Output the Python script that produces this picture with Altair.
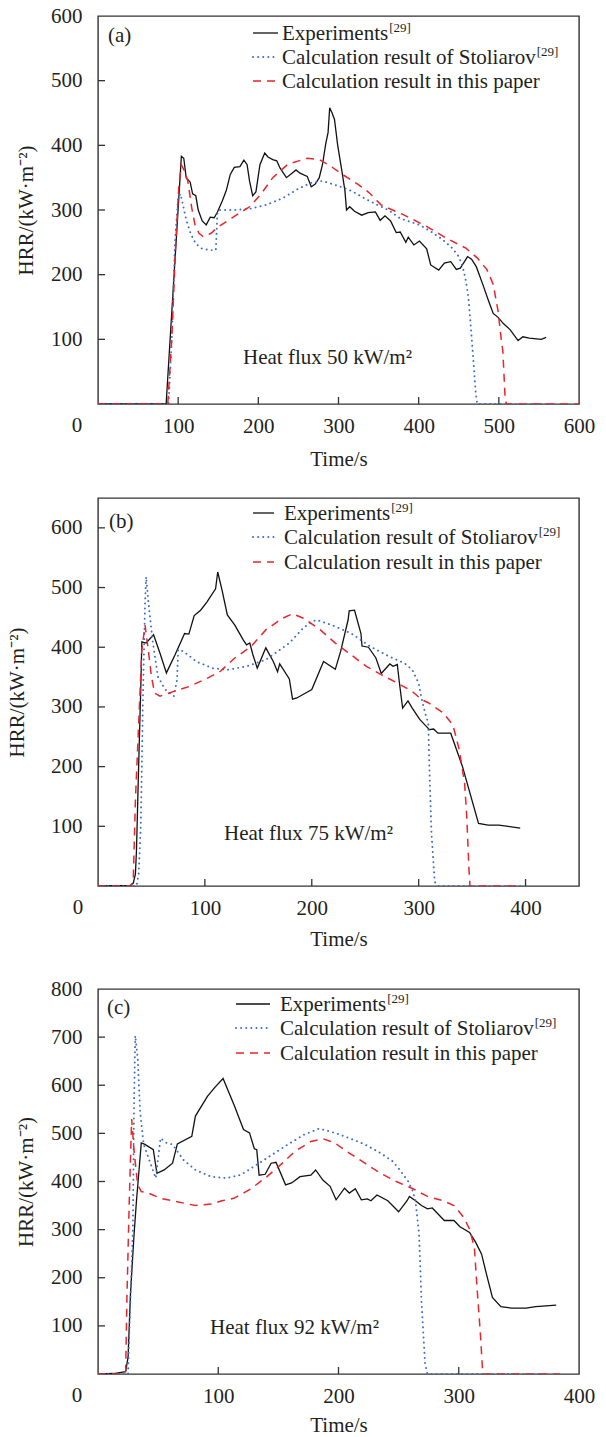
import altair as alt
import pandas as pd

FONT = "Liberation Serif"
TXT = "#231f20"
FRAME = "#333333"
RED = "#e8262b"
BLUE = "#3a6cc8"
BLACK = "#111111"

# ---------------- data: panel (a), heat flux 50 ----------------
a_exp_t = [0, 85, 104, 107, 110, 115, 118, 122, 125, 130, 135, 140, 145, 149, 155, 160, 165, 170, 177, 182,
           186, 189, 193, 197, 202, 208, 212, 218, 223, 227, 235, 242, 247, 252, 261, 266, 271, 276, 280, 284,
           287, 289, 292, 295, 299, 304, 308, 310, 314, 320, 329, 337, 346, 352, 358, 365, 372, 377, 384, 387,
           394, 401, 410, 415, 425, 432, 440, 447, 452, 461, 466, 472, 480, 487, 493, 499, 506, 514, 524, 530,
           538, 553, 559]
a_exp_v = [0, 0, 383, 380, 350, 343, 325, 322, 300, 283, 277, 289, 288, 297, 314, 330, 355, 366, 367, 377,
           370, 345, 322, 328, 370, 388, 382, 378, 376, 365, 350, 357, 362, 357, 352, 336, 340, 350, 370, 402,
           420, 458, 450, 440, 400, 362, 330, 300, 305, 298, 292, 296, 297, 284, 291, 283, 265, 266, 250, 258,
           246, 252, 240, 215, 207, 218, 220, 208, 210, 228, 224, 212, 185, 160, 140, 134, 124, 115, 98, 104,
           102, 100, 103]
a_sto_t = [0, 88, 92, 96, 100, 103, 107, 110, 116, 122, 130, 140, 147, 149, 152, 170, 190, 210, 230, 250,
           266, 280, 290, 305, 317, 331, 345, 362, 377, 401, 415, 430, 442, 450, 455, 459, 462, 465, 468, 471,
           473, 560]
a_sto_v = [0, 0, 100, 250, 320, 325, 302, 285, 262, 248, 240, 238, 238, 298, 300, 300, 302, 308, 318, 333,
           342, 345, 341, 335, 329, 319, 310, 300, 287, 277, 267, 254, 241, 228, 212, 190, 165, 120, 72, 20,
           0, 0]
a_cal_t = [0, 87, 92, 97, 101, 104, 108, 112, 117, 121, 126, 131, 136, 141, 150, 170, 189, 203, 218, 237,
           261, 276, 290, 305, 324, 338, 353, 382, 411, 435, 459, 473, 485, 493, 499, 503, 505, 508, 510, 600]
a_cal_v = [0, 0, 100, 250, 340, 370, 360, 345, 303, 277, 264, 259, 261, 264, 274, 290, 305, 324, 350, 371,
           380, 378, 368, 355, 340, 327, 308, 292, 274, 256, 241, 226, 208, 185, 144, 100, 82, 5, 0, 0]

# ---------------- data: panel (b), heat flux 75 ----------------
b_exp_t = [0, 30, 33, 35, 36, 38, 40, 41, 45, 52, 58, 64, 72, 81, 85, 90, 96, 102, 110, 112,
           116, 121, 128, 136, 139, 142, 145, 149, 157, 164, 168, 170, 179, 182, 186, 200, 211, 222, 227, 234,
           235, 240, 246, 247, 253, 260, 265, 273, 276, 280, 282, 284, 285, 290, 294, 301, 310, 314, 318, 330,
           341, 356, 365, 375, 395]
b_exp_v = [0, 1, 5, 20, 60, 200, 330, 409, 407, 421, 390, 357, 387, 423, 422, 453, 462, 476, 498, 526,
           496, 454, 437, 412, 404, 407, 387, 365, 399, 376, 359, 372, 347, 313, 315, 329, 376, 363, 393, 446,
           461, 462, 423, 402, 400, 382, 356, 372, 368, 371, 340, 312, 298, 310, 298, 279, 262, 263, 256, 256,
           200, 105, 102, 102, 97]
b_sto_t = [0, 36, 38, 40, 41, 42, 44, 45, 47, 51, 56, 63, 71, 74, 75, 80, 92, 107, 121, 139,
           157, 179, 193, 204, 219, 237, 255, 273, 287, 294, 300, 303, 306, 309, 310, 312, 315, 318, 395]
b_sto_v = [0, 0, 20, 100, 200, 312, 473, 518, 479, 412, 351, 329, 318, 346, 396, 393, 376, 365, 362, 368,
           379, 407, 434, 446, 437, 423, 401, 384, 373, 362, 340, 312, 290, 273, 200, 88, 7, 0, 0]
b_cal_t = [0, 31, 33, 35, 39, 41, 44, 47, 50, 53, 58, 71, 85, 100, 114, 128, 143, 157, 172, 182,
           193, 208, 222, 237, 251, 265, 280, 294, 303, 309, 323, 332, 338, 343, 345, 347, 348, 395]
b_cal_v = [0, 0, 10, 144, 312, 396, 437, 396, 351, 323, 318, 326, 334, 346, 359, 382, 401, 429, 448, 456,
           448, 429, 407, 387, 368, 354, 340, 326, 312, 307, 290, 270, 228, 172, 116, 30, 0, 0]

# ---------------- data: panel (c), heat flux 92 ----------------
c_exp_t = [0, 13, 23, 25, 27, 30, 32, 36, 39, 46, 49, 55, 62, 66, 78, 81, 91, 97, 104, 113,
           121, 126, 130, 132, 134, 139, 144, 148, 156, 161, 168, 177, 181, 187, 193, 198, 205, 209, 214, 219,
           224, 227, 232, 241, 250, 257, 259, 264, 269, 274, 278, 288, 296, 301, 309, 314, 319, 323, 328, 335,
           344, 356, 364, 381]
c_exp_v = [0, 1, 5, 35, 166, 291, 360, 480, 477, 466, 417, 424, 438, 478, 494, 536, 577, 595, 614, 560,
           508, 501, 468, 466, 413, 415, 438, 440, 393, 397, 410, 413, 424, 403, 390, 362, 386, 376, 385, 362,
           364, 360, 372, 360, 337, 360, 369, 360, 350, 343, 345, 319, 319, 306, 294, 274, 249, 208, 159, 140,
           137, 137, 140, 143]
c_sto_t = [0, 25, 26, 29, 29.5, 30, 31, 33, 35, 38, 42, 48, 52, 57, 62, 71, 81, 94, 107, 119,
           132, 145, 158, 171, 184, 197, 209, 222, 235, 245, 251, 258, 262, 264, 267, 269, 272, 274, 370]
c_sto_v = [0, 0, 83, 300, 435, 567, 703, 657, 546, 477, 449, 407, 490, 480, 477, 445, 424, 410, 407, 414,
           435, 456, 477, 497, 510, 501, 490, 477, 459, 442, 424, 400, 379, 360, 291, 152, 21, 0, 0]
c_cal_t = [0, 22, 23, 24, 26, 28, 30, 33, 36, 42, 52, 62, 81, 94, 103, 113, 126, 139, 152, 164,
           177, 187, 197, 209, 222, 235, 248, 261, 274, 287, 296, 304, 309, 313, 315, 318, 320, 384]
c_cal_v = [0, 0, 7, 152, 360, 530, 463, 393, 379, 376, 365, 360, 350, 353, 360, 365, 383, 407, 435, 463,
           483, 489, 480, 459, 438, 417, 400, 386, 369, 360, 350, 326, 301, 263, 187, 83, 0, 0]

# ---------------- axes and texts ----------------
a_xticks = [100, 200, 300, 400, 500, 600]
a_yticks = [100, 200, 300, 400, 500, 600]
b_xticks = [100, 200, 300, 400]
b_yticks = [100, 200, 300, 400, 500, 600]
c_xticks = [100, 200, 300, 400]
c_yticks = [100, 200, 300, 400, 500, 600, 700, 800]
x_domains = [600, 450, 400]
y_domains = [600, 650, 800]

legend_labels = ["Experiments", "Calculation result of Stoliarov", "Calculation result in this paper"]
legend_sups = ["[29]", "[29]", ""]
panel_tags = ["(a)", "(b)", "(c)"]
flux_labels = ["Heat flux 50 kW/m²", "Heat flux 75 kW/m²", "Heat flux 92 kW/m²"]
x_title = "Time/s"
y_title = "HRR/(kW·m⁻²)"
corner_label = "0"

FS = 21
SUP = 13
LP = 11

# Times-metric advance widths (per 1000 em) used to place the superscripts
TIMES = {' ': 250, '(': 333, ')': 333, '[': 333, ']': 333, 'a': 444, 'b': 500, 'c': 444, 'd': 500,
         'e': 444, 'f': 333, 'g': 500, 'h': 500, 'i': 278, 'k': 500, 'l': 278, 'm': 778, 'n': 500,
         'o': 500, 'p': 500, 'r': 333, 's': 389, 't': 278, 'u': 500, 'v': 500, 'x': 500,
         'C': 667, 'E': 611, 'S': 556}


def twidth(s, size):
    return sum(TIMES.get(ch, 500) for ch in s) / 1000.0 * size


one = pd.DataFrame({"k": [0]})


def text_layer(label, px, py, size=FS, align="left", baseline="alphabetic"):
    return alt.Chart(pd.DataFrame({"label": [label]})).mark_text(
        font=FONT, fontSize=size, color=TXT, align=align, baseline=baseline
    ).encode(x=alt.value(px), y=alt.value(py), text="label:N")


def panel(i, exp, sto, cal, xticks, yticks, W, H, lay, ytpad):
    xs = alt.Scale(domain=[0, x_domains[i]], nice=False, zero=False)
    ys = alt.Scale(domain=[0, y_domains[i]], nice=False, zero=False)
    xax = alt.Axis(values=xticks, ticks=False, tickSize=0, domain=False, grid=False,
                   labelFont=FONT, labelFontSize=FS, labelColor=TXT, labelPadding=LP,
                   labelFlush=False, labelOverlap=False,
                   titleFont=FONT, titleFontSize=FS, titleFontWeight="normal", titleColor=TXT,
                   titlePadding=lay["xtpad"])
    yax = alt.Axis(values=yticks, ticks=False, tickSize=0, domain=False, grid=False,
                   labelFont=FONT, labelFontSize=FS, labelColor=TXT, labelPadding=16,
                   labelFlush=False, labelOverlap=False,
                   titleFont=FONT, titleFontSize=FS, titleFontWeight="normal", titleColor=TXT,
                   titlePadding=ytpad)
    xe = alt.X("t:Q", scale=xs, axis=xax, title=x_title)
    ye = alt.Y("v:Q", scale=ys, axis=yax, title=y_title)

    def line(tv, color, width, dash=None, cap="butt"):
        t, v = tv
        df = pd.DataFrame({"t": t, "v": v, "i": list(range(len(t)))})
        kw = dict(color=color, strokeWidth=width, strokeCap=cap, clip=True)
        if dash:
            kw["strokeDash"] = dash
        return alt.Chart(df).mark_line(**kw).encode(x=xe, y=ye, order="i:Q")

    layers = [
        line(exp, BLACK, 1.3),
        line(sto, BLUE, 1.9, [0.1, 5], "round"),
        line(cal, RED, 1.5, [8, 6]),
    ]
    # inward ticks
    xt = [v for v in xticks if v < x_domains[i]]
    yt = [v for v in yticks if v < y_domains[i]]
    layers.append(alt.Chart(pd.DataFrame({"t": xt})).mark_rule(color=FRAME, strokeWidth=1.3).encode(
        x=xe, y=alt.value(H), y2=alt.value(H - 7)))
    layers.append(alt.Chart(pd.DataFrame({"v": yt})).mark_rule(color=FRAME, strokeWidth=1.3).encode(
        y=ye, x=alt.value(0), x2=alt.value(7)))
    # shared corner "0"
    layers.append(alt.Chart(pd.DataFrame({"t": [0], "v": [0], "label": [corner_label]})).mark_text(
        font=FONT, fontSize=FS, color=TXT, align="center", baseline="top", dx=lay["zdx"], dy=LP
    ).encode(x=xe, y=ye, text="label:N"))
    # legend
    styles = [dict(color=BLACK, strokeWidth=1.3),
              dict(color=BLUE, strokeWidth=1.9, strokeDash=[0.1, 5], strokeCap="round"),
              dict(color=RED, strokeWidth=1.5, strokeDash=[8, 6])]
    for k in range(3):
        by = lay["lb"][k]
        layers.append(alt.Chart(one).mark_rule(**styles[k]).encode(
            x=alt.value(lay["sx"][0]), x2=alt.value(lay["sx"][1]), y=alt.value(by - 7)))
        layers.append(text_layer(legend_labels[k], lay["lx"], by))
        if legend_sups[k]:
            layers.append(text_layer(legend_sups[k], lay["lx"] + twidth(legend_labels[k], FS) + 1,
                                     by - 8, size=SUP))
    layers.append(text_layer(panel_tags[i], lay["tag"][0], lay["tag"][1]))
    layers.append(text_layer(flux_labels[i], lay["flux"][0], lay["flux"][1]))
    return alt.layer(*layers).properties(width=W, height=H)


lay_a = dict(xtpad=12, zdx=-21, lb=[24, 48, 72], sx=[155, 180], lx=184, tag=[10, 26], flux=[145, 348])
lay_b = dict(xtpad=10, zdx=-20, lb=[22, 46, 71], sx=[155, 176], lx=186, tag=[11, 30], flux=[126, 342])
lay_c = dict(xtpad=8, zdx=-21, lb=[22, 46, 71], sx=[138, 172], lx=182, tag=[9, 25], flux=[112, 345])

pa = panel(0, (a_exp_t, a_exp_v), (a_sto_t, a_sto_v), (a_cal_t, a_cal_v), a_xticks, a_yticks, 481, 388, lay_a, 14)
pb = panel(1, (b_exp_t, b_exp_v), (b_sto_t, b_sto_v), (b_cal_t, b_cal_v), b_xticks, b_yticks, 481, 388, lay_b, 23)
pc = panel(2, (c_exp_t, c_exp_v), (c_sto_t, c_sto_v), (c_cal_t, c_cal_v), c_xticks, c_yticks, 481, 385, lay_c, 14)

chart = alt.concat(pa, pb, pc, columns=1, align="none", bounds="full", spacing=27).properties(
    padding={"left": 5, "top": 4, "right": 5, "bottom": 0},
    background="white",
).configure_view(stroke=FRAME, strokeWidth=1.4)

chart.save("out.html", embed_options={"renderer": "svg", "actions": False})
